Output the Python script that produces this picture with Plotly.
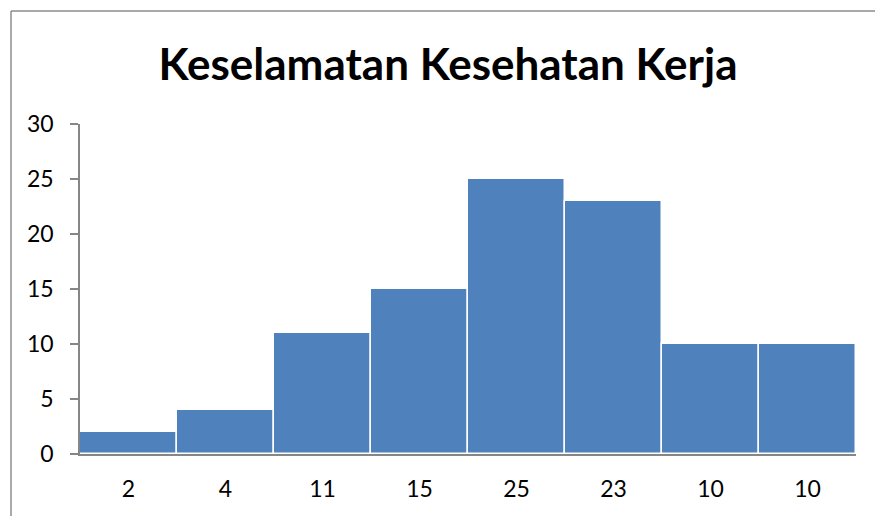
import plotly.graph_objects as go

# Category labels along the x axis and the bar heights
categories = ["2", "4", "11", "15", "25", "23", "10", "10"]
counts = [2, 4, 11, 15, 25, 23, 10, 10]
y_ticks = [0, 5, 10, 15, 20, 25, 30]

positions = list(range(len(categories)))

W, H = 875, 516
L, R, T, B = 80, 19, 124, 62
plot_w = W - L - R
plot_h = H - T - B

fig = go.Figure(
    go.Bar(
        x=positions,
        y=counts,
        marker=dict(color="#4F81BD", line=dict(color="white", width=1.5)),
        hoverinfo="y",
    )
)

axis_font = dict(family="Lato, Open Sans, sans-serif", size=23, color="black")

fig.update_layout(
    width=W,
    height=H,
    margin=dict(l=L, r=R, t=T, b=B),
    paper_bgcolor="white",
    plot_bgcolor="white",
    bargap=0,
    showlegend=False,
    title=dict(
        text="<b>Keselamatan Kesehatan Kerja</b>",
        x=0.512,
        xanchor="center",
        y=1 - 65 / H,
        yanchor="middle",
        font=dict(family="Lato, Open Sans, sans-serif", size=44, color="black"),
    ),
    xaxis=dict(
        tickmode="array",
        tickvals=positions,
        ticktext=categories,
        range=[-0.5, len(categories) - 0.5],
        showgrid=False,
        zeroline=False,
        showline=True,
        linecolor="#868686",
        linewidth=1.5,
        ticks="",
        tickfont=axis_font,
        ticklabelstandoff=14,
        fixedrange=True,
    ),
    yaxis=dict(
        range=[0, 30],
        tickmode="array",
        tickvals=y_ticks,
        showgrid=False,
        zeroline=False,
        showline=True,
        linecolor="#868686",
        linewidth=1.5,
        ticks="outside",
        ticklen=8,
        tickcolor="#868686",
        tickwidth=1.5,
        tickfont=axis_font,
        ticklabelstandoff=12,
        fixedrange=True,
    ),
)

# Chart-area border (left and top edges)
bx = (11 - L) / plot_w
by = (H - B - 11) / plot_h
fig.add_shape(type="line", xref="paper", yref="paper",
              x0=bx, x1=bx, y0=by, y1=(H - B - H - 5) / plot_h,
              line=dict(color="#8C8C8C", width=1.5))
fig.add_shape(type="line", xref="paper", yref="paper",
              x0=bx, x1=(W + 5 - L) / plot_w, y0=by, y1=by,
              line=dict(color="#8C8C8C", width=1.5))

fig.write_html("out.html")
